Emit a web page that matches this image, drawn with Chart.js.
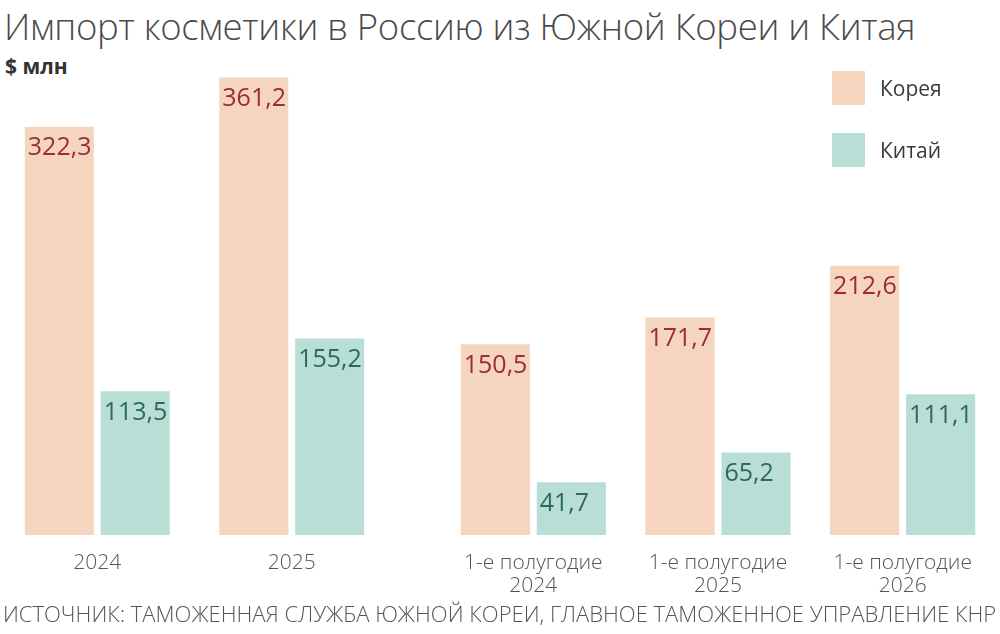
<!DOCTYPE html>
<html lang="ru">
<head>
<meta charset="utf-8">
<title>Импорт косметики в Россию из Южной Кореи и Китая</title>
<script src="https://cdn.jsdelivr.net/npm/chart.js@4.4.1/dist/chart.umd.min.js"></script>
<style>
  html, body { margin: 0; padding: 0; background: #fff; }
  body { width: 1000px; height: 634px; position: relative; overflow: hidden;
         font-family: "Open Sans", "Noto Sans", sans-serif; color: #444; }
  .title { position: absolute; left: 4px; top: 1px; font-size: 36.5px; font-weight: 300;
           color: #4a4a4a; white-space: nowrap; letter-spacing: -0.3px; }
  .unit { position: absolute; left: 5px; top: 52px; font-size: 21px; font-weight: 700; color: #333; }
  .box { position: absolute; top: 60px; height: 540px; }
  #box-year { left: 0; width: 389px; }
  #box-half { left: 441px; width: 554px; }
  .legend { position: absolute; left: 832px; top: 71px; }
  .legend div { display: flex; align-items: center; height: 34px; margin-bottom: 28px;
                font-size: 21px; color: #3a3a3a; }
  .legend span { display: inline-block; width: 33px; height: 34px; margin-right: 15px; }
  .source { position: absolute; left: 3px; top: 602px; font-size: 22px; line-height: 22px; color: #555;
            white-space: nowrap; font-weight: 300; }
</style>
</head>
<body>
<div class="title">Импорт косметики в Россию из Южной Кореи и Китая</div>
<div class="unit">$ млн</div>
<div class="box" id="box-year"><canvas id="chart-year"></canvas></div>
<div class="box" id="box-half"><canvas id="chart-half"></canvas></div>
<div class="legend" id="legend"></div>
<div class="source">ИСТОЧНИК: ТАМОЖЕННАЯ СЛУЖБА ЮЖНОЙ КОРЕИ, ГЛАВНОЕ ТАМОЖЕННОЕ УПРАВЛЕНИЕ КНР</div>

<script>
// --- data ---
const yearLabels = ['2024', '2025'];
const halfLabels = [['1-е полугодие', '2024'], ['1-е полугодие', '2025'], ['1-е полугодие', '2026']];

const koreaYear = [322.3, 361.2];
const chinaYear = [113.5, 155.2];
const koreaHalf = [150.5, 171.7, 212.6];
const chinaHalf = [41.7, 65.2, 111.1];

const seriesNames = ['Корея', 'Китай'];

// --- styles ---
const KOREA = '#f6d5bf';
const CHINA = '#b8ded6';
const KOREA_TEXT = '#982c3e';
const CHINA_TEXT = '#2d6a5d';
const Y_MAX = 375;

// value labels, top-left inside each bar
const barLabels = {
  id: 'barLabels',
  afterDatasetsDraw(chart) {
    const ctx = chart.ctx;
    ctx.save();
    ctx.font = '25px "Open Sans", "Noto Sans", sans-serif';
    ctx.textBaseline = 'top';
    ctx.textAlign = 'left';
    chart.data.datasets.forEach((ds, i) => {
      ctx.fillStyle = ds.labelColor;
      chart.getDatasetMeta(i).data.forEach((bar, j) => {
        const txt = ds.data[j].toFixed(1).replace('.', ',');
        ctx.fillText(txt, bar.x - bar.width / 2 + 3, bar.y + 9);
      });
    });
    ctx.restore();
  }
};

function makeChart(id, labels, korea, china, catPct) {
  return new Chart(document.getElementById(id), {
    type: 'bar',
    data: {
      labels,
      datasets: [
        { label: seriesNames[0], data: korea, backgroundColor: KOREA, labelColor: KOREA_TEXT },
        { label: seriesNames[1], data: china, backgroundColor: CHINA, labelColor: CHINA_TEXT },
      ],
    },
    options: {
      responsive: true,
      maintainAspectRatio: false,
      animation: false,
      categoryPercentage: catPct,
      barPercentage: 0.91,
      layout: { padding: 0 },
      plugins: { legend: { display: false }, tooltip: { enabled: false } },
      scales: {
        x: {
          grid: { display: false, drawTicks: false },
          border: { display: false },
          ticks: {
            padding: 16,
            color: '#555',
            font: { family: '"Open Sans", "Noto Sans", sans-serif', size: 21, weight: 300, lineHeight: 1.1 },
            maxRotation: 0,
            autoSkip: false,
          },
          afterFit: (scale) => { scale.height = 65; },
        },
        y: { display: false, min: 0, max: Y_MAX },
      },
    },
    plugins: [barLabels],
  });
}

makeChart('chart-year', yearLabels, koreaYear, chinaYear, 0.78);
makeChart('chart-half', halfLabels, koreaHalf, chinaHalf, 0.823);

// legend
document.getElementById('legend').innerHTML = seriesNames.map((n, i) =>
  `<div><span style="background:${i === 0 ? KOREA : CHINA}"></span>${n}</div>`).join('');
</script>
</body>
</html>
